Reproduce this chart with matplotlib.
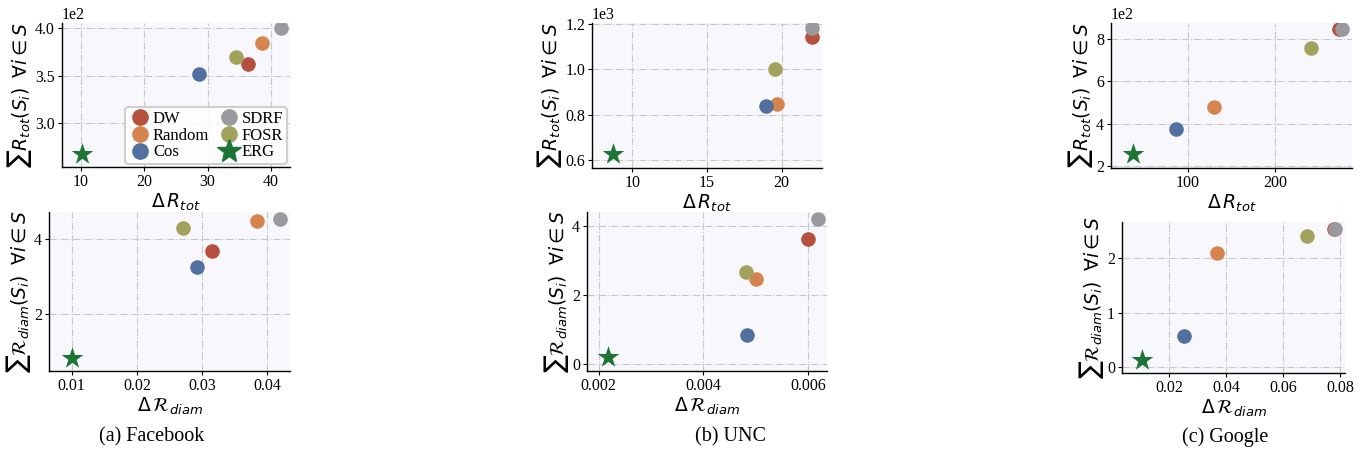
import matplotlib
matplotlib.use("Agg")
import matplotlib.pyplot as plt
from matplotlib.lines import Line2D

plt.rcParams['font.family'] = ['Liberation Serif', 'DejaVu Serif']
plt.rcParams['mathtext.fontset'] = 'dejavusans'

# ---------------- data ----------------
methods = ['DW', 'Random', 'Cos', 'SDRF', 'FOSR', 'ERG']
colors = ['#b4503d', '#d5844e', '#52709f', '#9a9a9e', '#a3a25d', '#1e7434']

# Facebook
fb_dRtot = [36.3, 38.6, 28.7, 41.5, 34.5, 10.2]
fb_sumRtot = [362, 384, 352, 400, 370, 267]
fb_dRdiam = [0.0315, 0.0385, 0.0292, 0.0420, 0.0270, 0.0100]
fb_sumRdiam = [3.69, 4.48, 3.25, 4.53, 4.29, 0.83]

# UNC
unc_dRtot = [22.05, 19.7, 18.95, 22.04, 19.53, 8.73]
unc_sumRtot = [1144, 848, 840, 1182, 1000, 629]
unc_dRdiam = [0.0060, 0.0050, 0.00483, 0.00618, 0.00481, 0.00218]
unc_sumRdiam = [3.62, 2.47, 0.84, 4.19, 2.67, 0.20]

# Google
gg_dRtot = [272.6, 129.7, 87.1, 276.0, 240.7, 37.3]
gg_sumRtot = [844, 479, 375, 847, 757, 255]
gg_dRdiam = [0.0780, 0.0367, 0.0250, 0.0783, 0.0685, 0.0105]
gg_sumRdiam = [2.55, 2.09, 0.56, 2.55, 2.41, 0.12]

captions = ['(a) Facebook', '(b) UNC', '(c) Google']

xlab_top = r'$\Delta\,R_{tot}$'
xlab_bot = r'$\Delta\,\mathcal{R}_{diam}$'
ylab_top = r'$\sum R_{tot}(S_i)\;\;\forall i \in S$'
ylab_bot = r'$\sum \mathcal{R}_{diam}(S_i)\;\;\forall i \in S$'

W, H = 1366, 458
fig = plt.figure(figsize=(W / 100, H / 100), dpi=100)


def rect(l, r, t, b):
    return [l / W, 1 - b / H, (r - l) / W, (b - t) / H]


def style(ax):
    ax.set_facecolor('#f7f7fc')
    ax.grid(True, color='#c8c8cc', linestyle='-.', linewidth=0.8)
    ax.set_axisbelow(True)
    for s in ['top', 'right']:
        ax.spines[s].set_visible(False)
    for s in ['left', 'bottom']:
        ax.spines[s].set_color('black')
        ax.spines[s].set_linewidth(1.0)
    ax.tick_params(labelsize=11.5, length=3, width=0.8, pad=2)


def scatter(ax, xs, ys):
    for m, c, x, y in zip(methods, colors, xs, ys):
        if m == 'ERG':
            ax.scatter([x], [y], s=270, marker='*', color=c, zorder=4, label=m,
                       linewidths=0)
        else:
            ax.scatter([x], [y], s=110, marker='o', color=c, zorder=3, label=m,
                       linewidths=0)


panels = [
    # (rect, xs, ys, xlim, ylim, xticks, yticks, xlabel, ylabel, sci)
    (rect(62, 290, 22.7, 167), fb_dRtot, fb_sumRtot, (7.0, 43.0), (253, 406),
     [10, 20, 30, 40], [300, 350, 400], xlab_top, ylab_top, True),
    (rect(49, 290, 212, 371), fb_dRdiam, fb_sumRdiam, (0.0065, 0.0435), (0.48, 4.72),
     [0.01, 0.02, 0.03, 0.04], [2, 4], xlab_bot, ylab_bot, False),
    (rect(592, 822, 22.7, 168), unc_dRtot, unc_sumRtot, (7.3, 22.7), (566, 1206),
     [10, 15, 20], [600, 800, 1000, 1200], xlab_top, ylab_top, True),
    (rect(587, 827, 212, 371), unc_dRdiam, unc_sumRdiam, (0.00178, 0.00636), (-0.2, 4.4),
     [0.002, 0.004, 0.006], [0, 2, 4], xlab_bot, ylab_bot, False),
    (rect(1111, 1352, 22.7, 168), gg_dRtot, gg_sumRtot, (12.7, 287.5), (190, 876),
     [100, 200], [200, 400, 600, 800], xlab_top, ylab_top, True),
    (rect(1122, 1345, 222, 373), gg_dRdiam, gg_sumRdiam, (0.0033, 0.0818), (-0.116, 2.67),
     [0.02, 0.04, 0.06, 0.08], [0, 1, 2], xlab_bot, ylab_bot, False),
]

axes = []
for (r, xs, ys, xl, yl, xt, yt, xlab, ylab, sci) in panels:
    ax = fig.add_axes(r)
    style(ax)
    scatter(ax, xs, ys)
    ax.set_xlim(*xl)
    ax.set_ylim(*yl)
    ax.set_xticks(xt)
    ax.set_yticks(yt)
    if sci:
        ax.ticklabel_format(axis='y', style='sci', scilimits=(0, 0))
        ax.yaxis.get_offset_text().set_fontsize(11.5)
    ax.set_xlabel(xlab, fontsize=13.5, labelpad=1)
    ax.set_ylabel(ylab, fontsize=13.5, labelpad=1)
    axes.append(ax)

# legend in the first panel
ax0 = axes[0]
handles = []
for m, c in zip(methods, colors):
    if m == 'ERG':
        handles.append(Line2D([], [], marker='*', color=c, linestyle='', markersize=18))
    else:
        handles.append(Line2D([], [], marker='o', color=c, linestyle='', markersize=11))
leg = ax0.legend(handles, methods, loc='lower right', ncol=2, fontsize=12,
                 frameon=True, fancybox=True, handletextpad=0.15, columnspacing=0.5,
                 labelspacing=0.05, borderpad=0.2, borderaxespad=0.2,
                 handlelength=1.3)
leg.get_frame().set_edgecolor('#c8c8c8')
leg.get_frame().set_linewidth(1.5)
leg.get_frame().set_facecolor('white')
leg.get_frame().set_alpha(0.85)

for cx, cap in zip([152, 730, 1225], captions):
    fig.text(cx / W, 1 - 437 / H, cap, ha='center', va='center', fontsize=14.5)

fig.savefig('out.png', dpi=100)
